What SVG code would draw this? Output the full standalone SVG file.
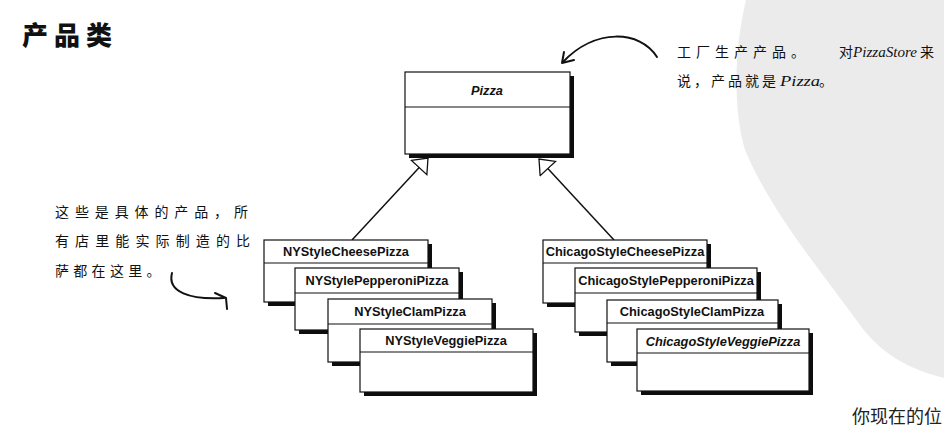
<svg xmlns="http://www.w3.org/2000/svg" width="944" height="442" viewBox="0 0 944 442">
<style>
.box{fill:#fff;stroke:#111;stroke-width:1.2}
.sh{fill:#111;filter:url(#blur)}
.div{stroke:#111;stroke-width:1.2}
.cls{font-family:"Liberation Sans",Arial,sans-serif;font-weight:bold;font-size:12.8px;fill:#111;text-anchor:middle}
.it{font-style:italic}
.hand{font-family:"Noto Sans CJK SC",sans-serif;font-size:14px;fill:#111}
.lat{font-family:"Liberation Serif",serif;font-style:italic;font-size:14px;fill:#111}
.conn{stroke:#111;stroke-width:1.5;fill:none}
.pen{stroke:#111;stroke-width:2;fill:none;stroke-linecap:round;stroke-linejoin:round}
</style>
<defs>
<filter id="blur" x="-10%" y="-10%" width="120%" height="120%"><feGaussianBlur stdDeviation="0.7"/></filter>
<marker id="tri" markerUnits="userSpaceOnUse" markerWidth="17" markerHeight="24" refX="14" refY="11.5" orient="auto">
<path d="M1,1 L14,11.5 L1,22 Z" fill="#fff" stroke="#111" stroke-width="1.3"/>
</marker>
</defs>
<rect width="944" height="442" fill="#fff"/>
<path id="watermark" d="M746,0 C734,50 733,110 745,150 C770,210 820,270 860,325 C880,352 905,368 944,378 L944,0 Z" fill="#ebebeb"/>
<text x="22" y="45" font-family="'Noto Sans CJK SC',sans-serif" font-weight="900" font-size="26" letter-spacing="6" fill="#111">产品类</text>
<g id="note-top">
<text class="hand" x="677" y="57" letter-spacing="5">工厂生产产品。</text>
<text class="hand" x="839" y="57">对</text>
<text class="lat" x="853" y="57" textLength="64" lengthAdjust="spacingAndGlyphs">PizzaStore</text>
<text class="hand" x="920" y="57">来</text>
<text class="hand" x="677" y="86" letter-spacing="3">说，产品就是</text>
<text class="lat" x="780" y="86" textLength="40" lengthAdjust="spacingAndGlyphs">Pizza</text>
<text class="hand" x="819" y="86">。</text>
</g>
<g id="note-left">
<text class="hand" x="55" y="217" font-size="15" textLength="193" lengthAdjust="spacing">这些是具体的产品，所</text>
<text class="hand" x="55" y="246" font-size="15" textLength="195" lengthAdjust="spacing">有店里能实际制造的比</text>
<text class="hand" x="55" y="276" font-size="15" letter-spacing="4.3">萨都在这里。</text>
</g>
<text x="852" y="423" font-family="'Noto Sans CJK SC',sans-serif" font-size="18" fill="#222">你现在的位</text>
<g id="connectors">
<line class="conn" x1="352" y1="240" x2="428" y2="158" marker-end="url(#tri)"/>
<line class="conn" x1="614" y1="240" x2="539" y2="159" marker-end="url(#tri)"/>
<path class="pen" d="M657,57 C640,30 595,28 563,62"/>
<path class="pen" d="M564,52 L562,63 L574,60"/>
<path class="pen" d="M172,273 C167,292 190,300 224,298"/>
<path class="pen" d="M215,293 L226,298 L227,309"/>
</g>
<g id="pizza">
<rect class="sh" x="409" y="76" width="165" height="82"/>
<rect class="box" x="405" y="72" width="165" height="82"/>
<line class="div" x1="405" y1="107" x2="570" y2="107"/>
<text class="cls it" x="487" y="95" font-size="13">Pizza</text>
</g>
<g id="ny-cheese">
<rect class="sh" x="268" y="244" width="164" height="62"/>
<rect class="box" x="264" y="240" width="164" height="62"/>
<line class="div" x1="264" y1="263" x2="428" y2="263"/>
<text class="cls" x="346" y="256">NYStyleCheesePizza</text>
</g>
<g id="ny-pepperoni">
<rect class="sh" x="299" y="272" width="164" height="62"/>
<rect class="box" x="295" y="268" width="164" height="62"/>
<line class="div" x1="295" y1="293" x2="459" y2="293"/>
<text class="cls" x="377" y="285">NYStylePepperoniPizza</text>
</g>
<g id="ny-clam">
<rect class="sh" x="332" y="303" width="164" height="63"/>
<rect class="box" x="328" y="299" width="164" height="63"/>
<line class="div" x1="328" y1="324" x2="492" y2="324"/>
<text class="cls" x="410" y="316">NYStyleClamPizza</text>
</g>
<g id="ny-veggie">
<rect class="sh" x="364" y="333" width="173" height="63"/>
<rect class="box" x="360" y="329" width="173" height="63"/>
<line class="div" x1="360" y1="352" x2="533" y2="352"/>
<text class="cls" x="446" y="345">NYStyleVeggiePizza</text>
</g>
<g id="chicago-cheese">
<rect class="sh" x="547" y="244" width="164" height="63"/>
<rect class="box" x="543" y="240" width="164" height="63"/>
<line class="div" x1="543" y1="263" x2="707" y2="263"/>
<text class="cls" x="625" y="256">ChicagoStyleCheesePizza</text>
</g>
<g id="chicago-pepperoni">
<rect class="sh" x="579" y="272" width="182" height="64"/>
<rect class="box" x="575" y="268" width="182" height="64"/>
<line class="div" x1="575" y1="293" x2="757" y2="293"/>
<text class="cls" x="666" y="285">ChicagoStylePepperoniPizza</text>
</g>
<g id="chicago-clam">
<rect class="sh" x="611" y="304" width="171" height="62"/>
<rect class="box" x="607" y="300" width="171" height="62"/>
<line class="div" x1="607" y1="323" x2="778" y2="323"/>
<text class="cls" x="692" y="316">ChicagoStyleClamPizza</text>
</g>
<g id="chicago-veggie">
<rect class="sh" x="641" y="333" width="172" height="62"/>
<rect class="box" x="637" y="329" width="172" height="62"/>
<line class="div" x1="637" y1="353" x2="809" y2="353"/>
<text class="cls it" x="723" y="346">ChicagoStyleVeggiePizza</text>
</g>
</svg>
